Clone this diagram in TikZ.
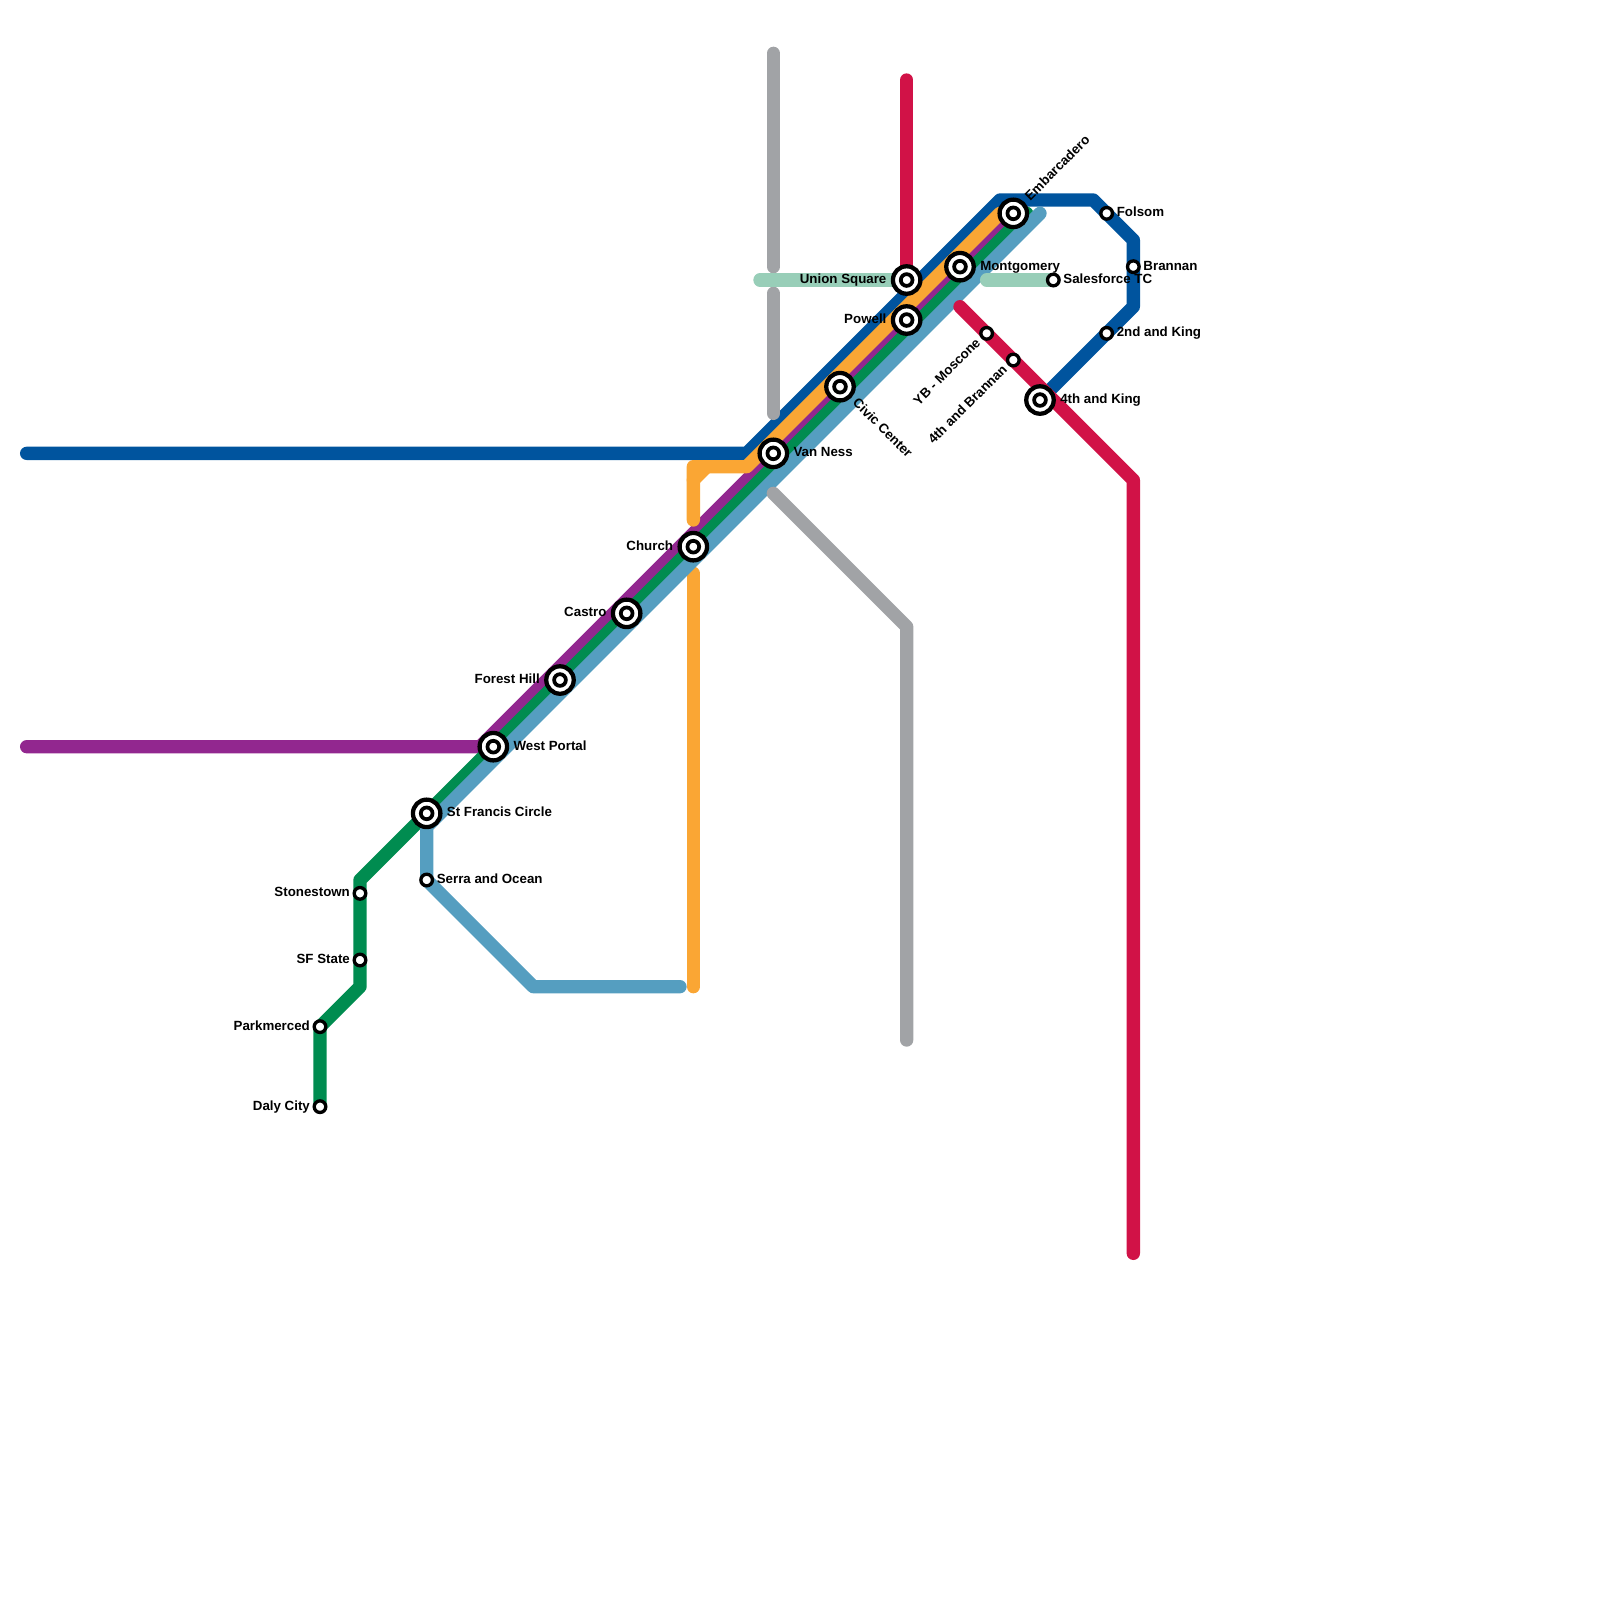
\documentclass[tikz,border=0pt]{standalone}
\usepackage{fontspec}
\setmainfont{Liberation Sans}
\usepackage{xcolor}
\usetikzlibrary{positioning,backgrounds,calc}
\definecolor{bluecol}{RGB}{0,84,158}
\definecolor{purplecol}{RGB}{146,39,143}
\definecolor{greencol}{RGB}{0,140,80}
\definecolor{orangecol}{RGB}{250,166,52}
\definecolor{skycol}{RGB}{85,158,192}
\definecolor{graycol}{RGB}{161,163,166}
\definecolor{foamcol}{RGB}{152,206,184}
\definecolor{redcol}{RGB}{209,18,71}

\begin{document}
\begin{tikzpicture}[
  x=1mm, y=-1mm,
  ln/.style={line width=1mm, line cap=round, line join=round},
  bl/.style={ln, bluecol},
  pp/.style={ln, purplecol},
  gr/.style={ln, greencol},
  og/.style={ln, orangecol},
  sk/.style={ln, skycol},
  gy/.style={ln, graycol},
  fm/.style={ln, foamcol},
  rd/.style={ln, redcol},
  stn/.style={circle, draw=black, fill=white, line width=.25mm, inner sep=0pt, minimum size=.87mm},
  hub/.style={circle, draw=black, fill=white, line width=.32mm, inner sep=0pt, minimum size=2.06mm,
              path picture={\draw[line width=.28mm] (path picture bounding box.center) circle (.44mm);}},
  lbl/.style={inner sep=0pt, outer sep=0pt, text height=2.1pt, text depth=.6pt,
              font=\fontsize{2.84pt}{3.4pt}\selectfont\bfseries}
]
\useasboundingbox (0,0) rectangle (120,120);

\node[hub] (stfrancis) at (32,61) {};
\node[hub] (westportal) at (37,56) {};
\node[hub] (foresthill) at (42,51) {};
\node[hub] (castro) at (47,46) {};
\node[hub] (church) at (52,41) {};
\node[hub] (vanness) at (58,34) {};
\node[hub] (civic) at (63,29) {};
\node[hub] (powell) at (68,24) {};
\node[hub] (union) at (68,21) {};
\node[hub] (montgomery) at (72,20) {};
\node[hub] (embarcadero) at (76,16) {};
\node[hub] (king4) at (78,30) {};

\node[stn] (serra) at (32,66) {};
\node[stn] (stonestown) at (27,67) {};
\node[stn] (sfstate) at (27,72) {};
\node[stn] (parkmerced) at (24,77) {};
\node[stn] (daly) at (24,83) {};
\node[stn] (salesforce) at (79,21) {};
\node[stn] (folsom) at (83,16) {};
\node[stn] (brannan) at (85,20) {};
\node[stn] (king2) at (83,25) {};
\node[stn] (moscone) at (74,25) {};
\node[stn] (brannan4) at (76,27) {};

\node[lbl, right=.33mm of stfrancis] (stfrancisl) {St Francis Circle};
\node[lbl, right=.33mm of westportal] (westportall) {West Portal};
\node[lbl, left=.33mm of foresthill] (foresthilll) {Forest Hill};
\node[lbl, left=.33mm of castro] (castrol) {Castro};
\node[lbl, left=.33mm of church] (churchl) {Church};
\node[lbl, right=.33mm of vanness] (vannessl) {Van Ness};
\node[lbl, left=.33mm of powell] (powelll) {Powell};
\node[lbl, left=.33mm of union] (unionl) {Union Square};
\node[lbl, right=.33mm of montgomery] (montgomeryl) {Montgomery};
\node[lbl, right=.33mm of king4] (king4l) {4th and King};
\node[lbl, right=.2mm of serra] (serral) {Serra and Ocean};
\node[lbl, left=.2mm of stonestown] (stonestownl) {Stonestown};
\node[lbl, left=.2mm of sfstate] (sfstatel) {SF State};
\node[lbl, left=.2mm of parkmerced] (parkmercedl) {Parkmerced};
\node[lbl, left=.2mm of daly] (dalyl) {Daly City};
\node[lbl, right=.2mm of salesforce] (salesforcel) {Salesforce TC};
\node[lbl, right=.2mm of folsom] (folsoml) {Folsom};
\node[lbl, right=.2mm of brannan] (brannanl) {Brannan};
\node[lbl, right=.2mm of king2] (king2l) {2nd and King};
\node[lbl, rotate=45, anchor=west] (embarcaderol) at ($(embarcadero.45)+(.25,-.25)$) {Embarcadero};
\node[lbl, rotate=-45, anchor=west] (civicl) at ($(civic.-45)+(.25,.25)$) {Civic Center};
\node[lbl, rotate=45, anchor=east] (mosconel) at ($(moscone.-135)+(-.2,.2)$) {YB - Moscone};
\node[lbl, rotate=45, anchor=east] (brannan4l) at ($(brannan4.-135)+(-.2,.2)$) {4th and Brannan};

\coordinate (blw) at (2,34);
\coordinate (bla) at (56,34);
\coordinate (blb) at (75,15);
\coordinate (blc) at (82,15);
\coordinate (bld) at (85,18);
\coordinate (ble) at (85,23);
\coordinate (ppw) at (2,56);
\coordinate (ppa) at (36,56);
\coordinate (gre) at (77,16);
\coordinate (gra) at (27,66);
\coordinate (grb) at (27,74);
\coordinate (oga) at (52,39);
\coordinate (ogb) at (52,36);
\coordinate (ogc) at (52,35);
\coordinate (ogd) at (53,35);
\coordinate (oge) at (56,35);
\coordinate (ogf) at (75,16);
\coordinate (ogg) at (52,43);
\coordinate (ogh) at (52,74);
\coordinate (ske) at (78,16);
\coordinate (ska) at (33,61);
\coordinate (skb) at (32,62);
\coordinate (skc) at (40,74);
\coordinate (skd) at (51,74);
\coordinate (gya) at (58,4);
\coordinate (gyb) at (58,20);
\coordinate (gyc) at (58,22);
\coordinate (gyd) at (58,31);
\coordinate (gye) at (58,37);
\coordinate (gyf) at (68,47);
\coordinate (gyg) at (68,78);
\coordinate (fma) at (57,21);
\coordinate (fmb) at (74,21);
\coordinate (rda) at (68,6);
\coordinate (rdb) at (72,23);
\coordinate (rdc) at (85,36);
\coordinate (rdd) at (85,94);

\begin{scope}[on background layer]
\draw[bl] (blw) -- (bla) -- (blb) -- (blc) -- (folsom.center) -- (bld) -- (brannan.center) -- (ble) -- (king2.center) -- (king4.center);
\draw[pp] (ppw) -- (ppa) -- (embarcadero.center);
\draw[og] (oga) -- (ogb) -- (ogc) -- (ogd) -- (oge) -- (ogf);
\draw[og] (ogb) -- (ogd);
\draw[og] (ogg) -- (ogh);
\draw[gr] (gre) -- (gra) -- (stonestown.center) -- (sfstate.center) -- (grb) -- (parkmerced.center) -- (daly.center);
\draw[sk] (ske) -- (ska) -- (skb) -- (serra.center) -- (skc) -- (skd);
\draw[gy] (gya) -- (gyb);
\draw[gy] (gyc) -- (gyd);
\draw[gy] (gye) -- (gyf) -- (gyg);
\draw[fm] (fma) -- (union.center);
\draw[fm] (fmb) -- (salesforce.center);
\draw[rd] (rda) -- (union.center);
\draw[rd] (rdb) -- (moscone.center) -- (brannan4.center) -- (rdc) -- (rdd);
\end{scope}
\end{tikzpicture}
\end{document}
